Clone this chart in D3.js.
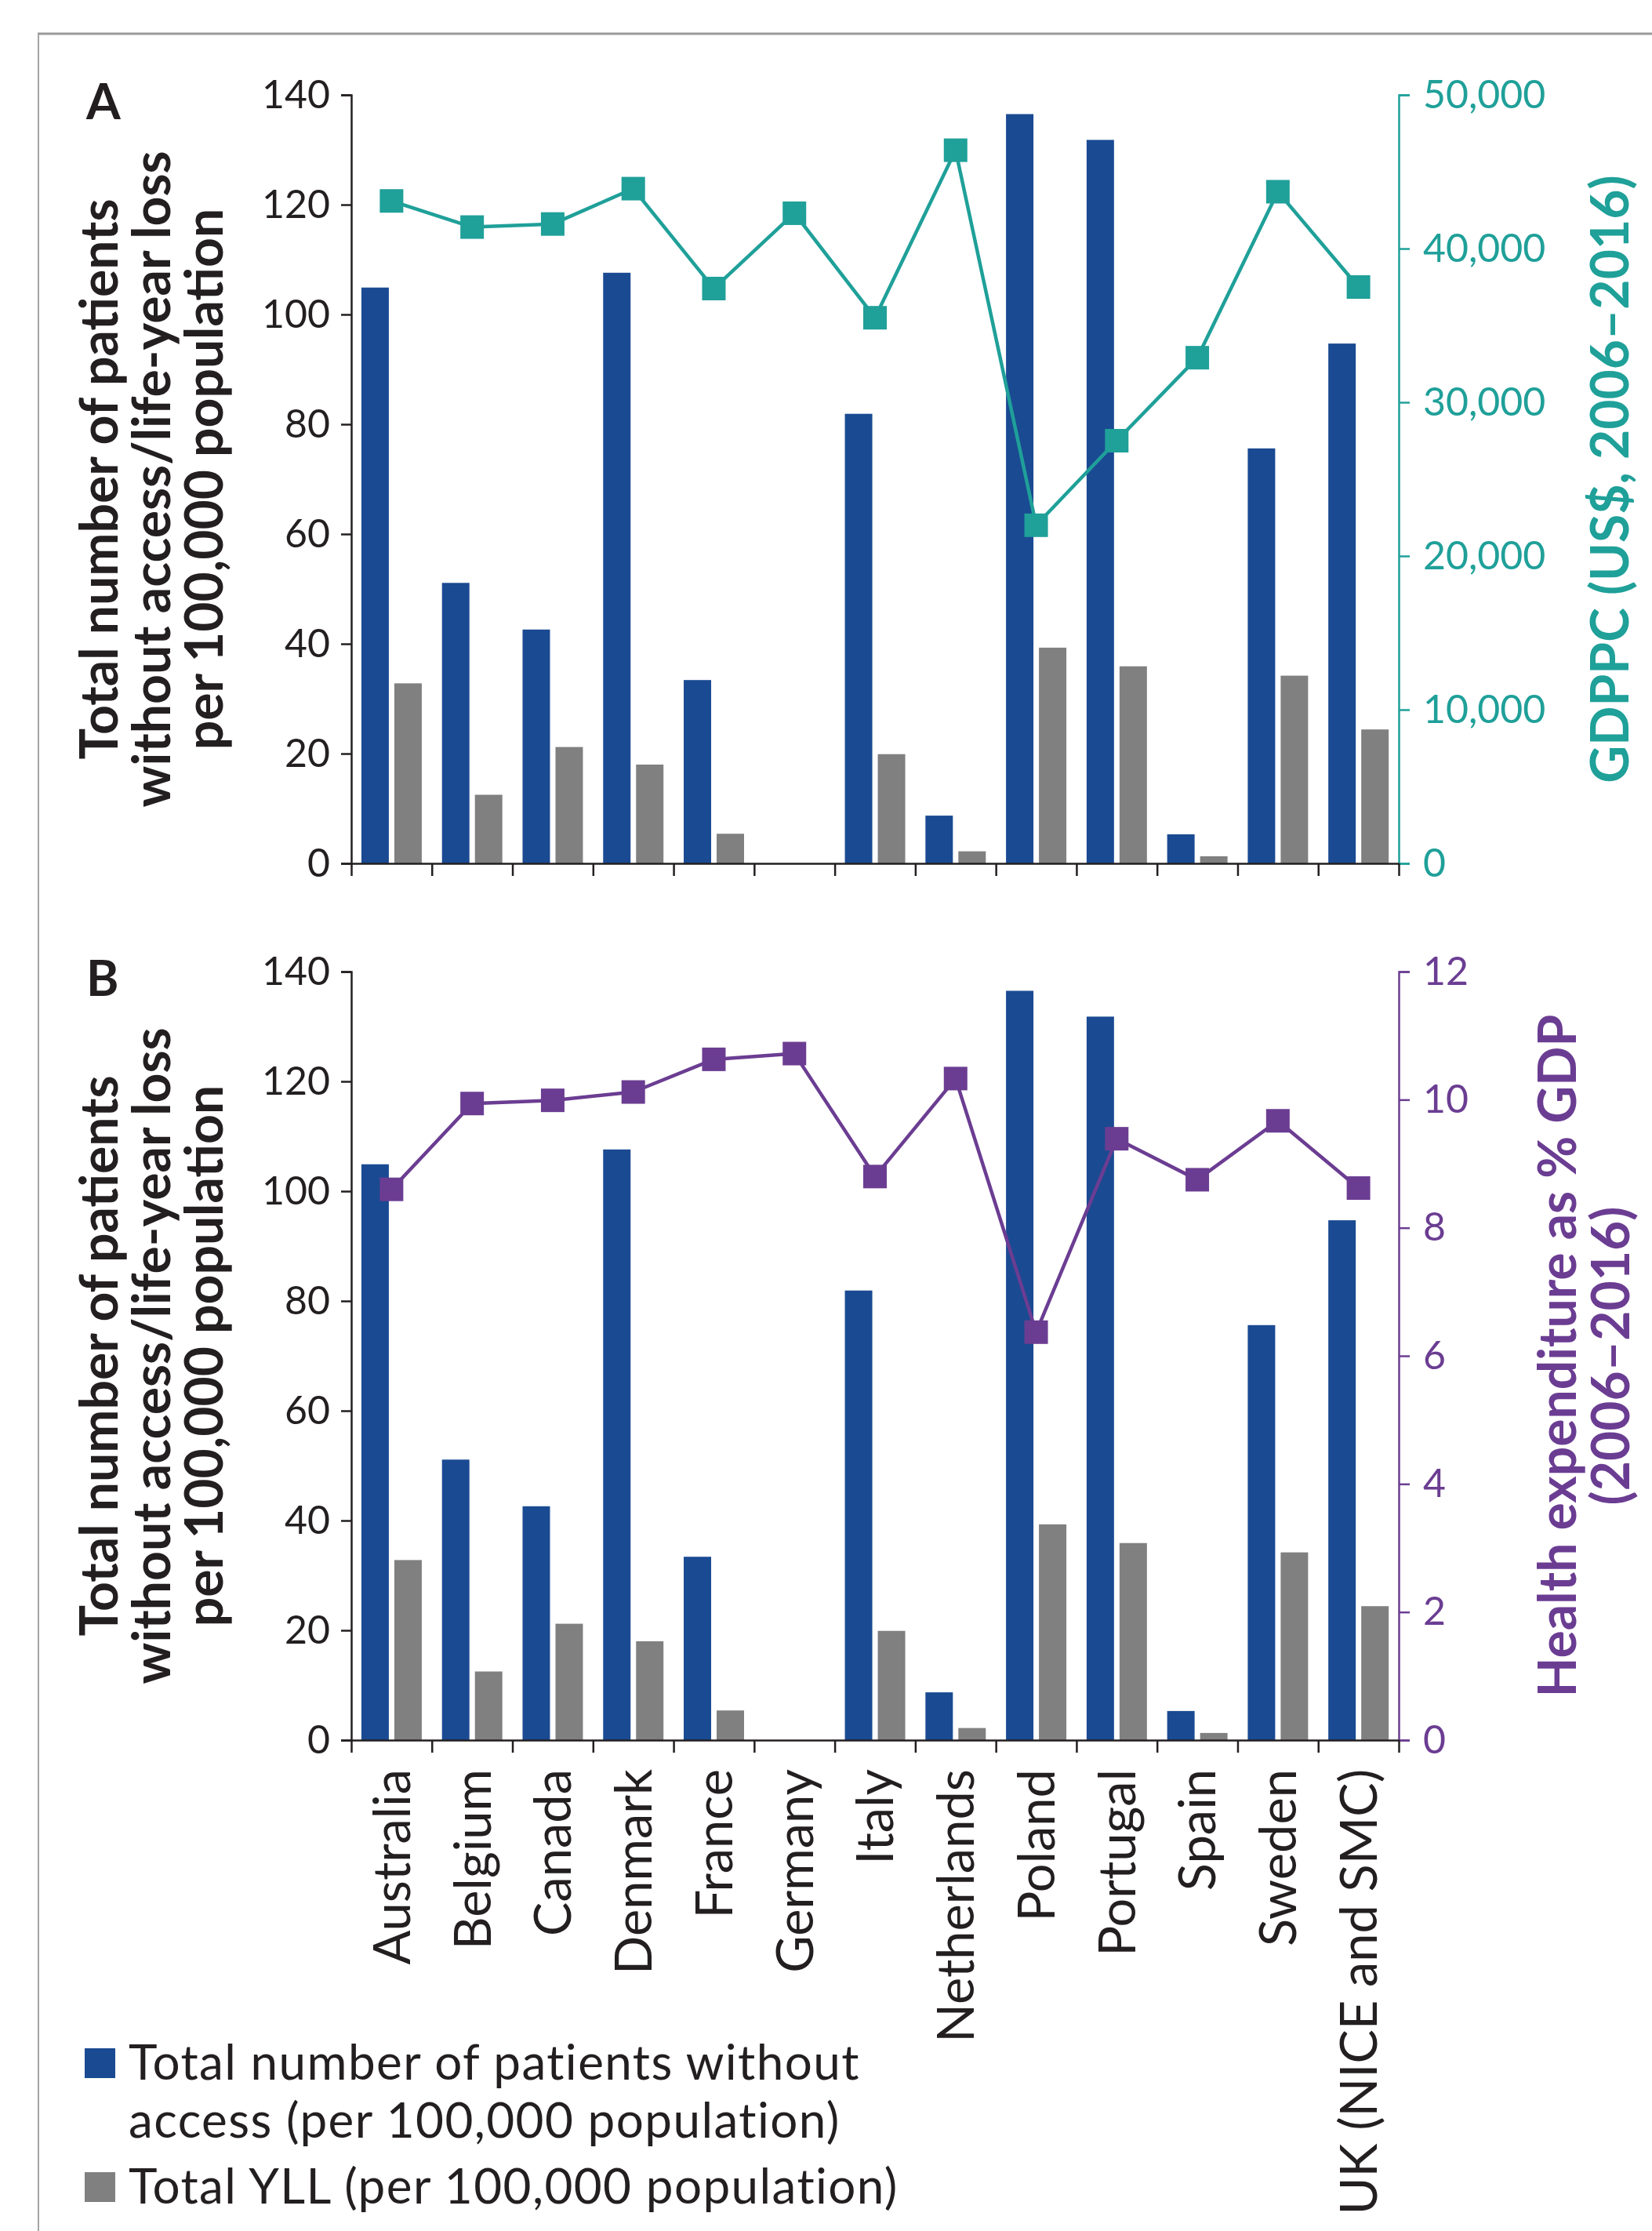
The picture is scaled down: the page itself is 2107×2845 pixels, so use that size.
<!DOCTYPE html>
<html>
<head>
<meta charset="utf-8">
<script src="https://cdn.jsdelivr.net/npm/d3@7"></script>
<style>
  html, body { margin: 0; padding: 0; background: #ffffff; }
  svg { display: block; }
  text { font-family: Lato, "Noto Sans", sans-serif; }
</style>
</head>
<body>
<svg id="chart" width="2107" height="2845"></svg>
<script>
// ---- data ----------------------------------------------------------------
const countries = ["Australia", "Belgium", "Canada", "Denmark", "France", "Germany", "Italy",
                   "Netherlands", "Poland", "Portugal", "Spain", "Sweden", "UK (NICE and SMC)"];
const patientsWithoutAccess = [104.9, 51.1, 42.6, 107.6, 33.4, 0, 81.9, 8.7, 136.5, 131.8, 5.3, 75.6, 94.7];
const totalYLL = [32.8, 12.5, 21.2, 18.0, 5.4, 0, 19.9, 2.2, 39.3, 35.9, 1.3, 34.2, 24.4];
const gdppc = [43100, 41400, 41600, 43900, 37400, 42300, 35500, 46400, 22000, 27500, 32900, 43700, 37500];
const healthExpenditure = [8.60, 9.94, 9.99, 10.12, 10.63, 10.72, 8.80, 10.33, 6.37, 9.39, 8.75, 9.67, 8.62];

const leftTicks = [0, 20, 40, 60, 80, 100, 120, 140];
const gdpTicks = [0, 10000, 20000, 30000, 40000, 50000];
const hexTicks = [0, 2, 4, 6, 8, 10, 12];

const leftTitle = ["Total number of patients", "without access/life-year loss", "per 100,000 population"];
const legendItems = [
  { lines: ["Total number of patients without", "access (per 100,000 population)"], key: "access" },
  { lines: ["Total YLL (per 100,000 population)"], key: "yll" }
];

// ---- styling ---------------------------------------------------------------
const C = {
  blue: "#1a4a92",
  gray: "#808080",
  teal: "#1fa099",
  purple: "#6b3d92",
  ink: "#231f20",
  frame: "#a3a3a3"
};
const FS = { tick: 50, category: 65, title: 66, legend: 62, letter: 63 };

const svg = d3.select("#chart");
const X0 = 448, X1 = 1784;

// outer frame (top and left edges visible)
svg.append("line").attr("x1", 48).attr("x2", 2107).attr("y1", 43).attr("y2", 43)
  .attr("stroke", "#9b9b9b").attr("stroke-width", 3);
svg.append("line").attr("x1", 49).attr("x2", 49).attr("y1", 43).attr("y2", 2845)
  .attr("stroke", C.frame).attr("stroke-width", 2);

const x = d3.scaleBand().domain(countries).range([X0, X1]).paddingInner(0).paddingOuter(0);
const bw = x.bandwidth();
const xSub = d3.scaleBand().domain(["access", "yll"])
  .range([bw * 0.126, bw * 0.875]).paddingInner(0.167).paddingOuter(0);
const xEdge = d3.scaleLinear().domain([0, countries.length]).range([X0, X1]);

function drawPanel(opts) {
  const { top, bottom, letter, rightScale, rightTicks, rightFormat, lineValues, color,
          rightTitle, rightTitleBaselines, showCountryLabels } = opts;
  const g = svg.append("g");
  const y = d3.scaleLinear().domain([0, 140]).range([bottom, top]);
  const yr = d3.scaleLinear().domain(rightScale).range([bottom, top]);

  // bars
  const rows = countries.map((c, i) => ({ c, access: patientsWithoutAccess[i], yll: totalYLL[i] }));
  const grp = g.append("g").selectAll("g").data(rows).join("g")
    .attr("transform", d => `translate(${x(d.c)},0)`);
  grp.selectAll("rect")
    .data(d => [{ k: "access", v: d.access }, { k: "yll", v: d.yll }])
    .join("rect")
    .attr("x", d => xSub(d.k))
    .attr("width", xSub.bandwidth())
    .attr("y", d => y(d.v))
    .attr("height", d => y(0) - y(d.v))
    .attr("fill", d => d.k === "access" ? C.blue : C.gray);

  // left axis
  const la = g.append("g").attr("transform", `translate(${X0},0)`)
    .call(d3.axisLeft(y).tickValues(leftTicks).tickSize(13).tickSizeOuter(13).tickPadding(14));
  la.select(".domain").attr("stroke", C.ink).attr("stroke-width", 2.5);
  la.selectAll(".tick line").attr("stroke", C.ink).attr("stroke-width", 2.5);
  la.selectAll(".tick text").attr("fill", C.ink).attr("font-size", FS.tick)
    .attr("font-family", "Lato, sans-serif");

  // right axis
  const ra = g.append("g").attr("transform", `translate(${X1},0)`)
    .call(d3.axisRight(yr).tickValues(rightTicks).tickFormat(rightFormat)
      .tickSize(14).tickSizeOuter(14).tickPadding(17));
  ra.select(".domain").attr("stroke", color).attr("stroke-width", 2.5);
  ra.selectAll(".tick line").attr("stroke", color).attr("stroke-width", 2.5);
  ra.selectAll(".tick text").attr("fill", color).attr("font-size", FS.tick)
    .attr("font-family", "Lato, sans-serif");

  // category axis with ticks on band edges
  const xa = g.append("g").attr("transform", `translate(0,${bottom})`)
    .call(d3.axisBottom(xEdge).tickValues(d3.range(countries.length + 1))
      .tickFormat("").tickSize(16).tickSizeOuter(0));
  xa.select(".domain").attr("stroke", C.ink).attr("stroke-width", 2.5);
  xa.selectAll(".tick line").attr("stroke", C.ink).attr("stroke-width", 2.5);

  if (showCountryLabels) {
    const lab = g.append("g").attr("transform", `translate(0,${bottom})`)
      .call(d3.axisBottom(x).tickSize(0).tickPadding(0));
    lab.select(".domain").remove();
    lab.selectAll(".tick text")
      .attr("font-size", FS.category).attr("fill", C.ink).attr("font-family", "Lato, sans-serif")
      .attr("text-anchor", "end")
      .attr("transform", "translate(0,37) rotate(-90)")
      .attr("x", 0).attr("y", 0).attr("dy", "0.36em");
  }

  // line series with square markers
  const line = d3.line().x((d, i) => x(countries[i]) + bw / 2).y(d => yr(d));
  g.append("path").datum(lineValues).attr("d", line)
    .attr("fill", "none").attr("stroke", color).attr("stroke-width", 4.5)
    .attr("stroke-linejoin", "round");
  const m = 30;
  g.append("g").selectAll("rect").data(lineValues).join("rect")
    .attr("x", (d, i) => x(countries[i]) + bw / 2 - m / 2)
    .attr("y", d => yr(d) - m / 2)
    .attr("width", m).attr("height", m)
    .attr("fill", color);

  // panel letter
  g.append("text").attr("x", 110).attr("y", top + 31).text(letter)
    .attr("font-size", FS.letter).attr("font-weight", 700).attr("fill", C.ink);

  // left axis title
  const mid = (top + bottom) / 2;
  const baselines = [150, 217, 284];
  leftTitle.forEach((t, i) => {
    g.append("text").attr("transform", `translate(${baselines[i]},${mid}) rotate(-90)`)
      .attr("text-anchor", "middle").attr("font-size", FS.title).attr("font-weight", 700)
      .attr("fill", C.ink).text(t);
  });

  // right axis title
  rightTitle.forEach((t, i) => {
    g.append("text").attr("transform", `translate(${rightTitleBaselines[i]},${mid}) rotate(-90)`)
      .attr("text-anchor", "middle").attr("font-size", FS.title).attr("font-weight", 700)
      .attr("fill", color).text(t);
  });
}

drawPanel({
  top: 121, bottom: 1101, letter: "A",
  rightScale: [0, 50000], rightTicks: gdpTicks, rightFormat: d3.format(","),
  lineValues: gdppc, color: C.teal,
  rightTitle: ["GDPPC (US$, 2006\u20132016)"], rightTitleBaselines: [2077],
  showCountryLabels: false
});

drawPanel({
  top: 1239, bottom: 2219, letter: "B",
  rightScale: [0, 12], rightTicks: hexTicks, rightFormat: d3.format("d"),
  lineValues: healthExpenditure, color: C.purple,
  rightTitle: ["Health expenditure as % GDP", "(2006\u20132016)"], rightTitleBaselines: [2010, 2078],
  showCountryLabels: true
});

// legend
const legendColor = { access: C.blue, yll: C.gray };
const lg = svg.append("g");
const legendBaselines = [[2652, 2726], [2810]];
legendItems.forEach((item, i) => {
  const b = legendBaselines[i];
  lg.append("rect").attr("x", 108).attr("y", b[0] - 40).attr("width", 39).attr("height", 38)
    .attr("fill", legendColor[item.key]);
  item.lines.forEach((t, j) => {
    lg.append("text").attr("x", 164).attr("y", b[j]).text(t)
      .attr("font-size", FS.legend).attr("letter-spacing", 1.4).attr("fill", C.ink);
  });
});
</script>
</body>
</html>
